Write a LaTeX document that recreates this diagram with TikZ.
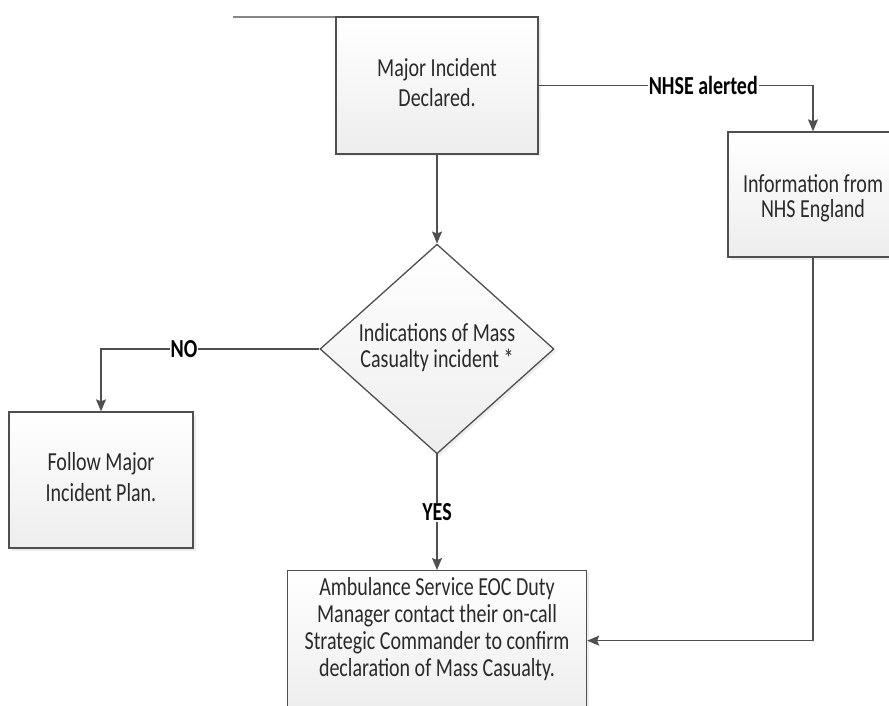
\documentclass[tikz,border=0pt]{standalone}
\usepackage{fontspec}
\usepackage{graphicx}
\setmainfont{Carlito}
\usetikzlibrary{arrows.meta,shapes.geometric,shadows}
\definecolor{edge}{HTML}{4F4F4F}
\definecolor{ink}{HTML}{2A2A2A}
\definecolor{rule}{HTML}{858585}
% centred lines of tall, narrow type; optional argument = line pitch before stretching
\newcommand\tallstack[2][20.5pt]{\scalebox{1}[1.3]{\fontsize{20pt}{#1}\selectfont
  \begin{tabular}{@{}c@{}}#2\end{tabular}}}
\newcommand\tallword[1]{\scalebox{1}[1.3]{\fontsize{20pt}{22pt}\selectfont\bfseries #1}}
% lower a block without changing the size the node sees
\newcommand\lowered[2]{\raisebox{-#1}[\height][\depth]{#2}}
\tikzset{
  boxfill/.style={top color=white, bottom color=black!7,
    drop shadow={opacity=0.14, shadow xshift=2.5pt, shadow yshift=-2.5pt}},
  proc/.style={rectangle, draw=edge, line width=1.3pt, inner sep=0pt,
    boxfill, text=ink},
  decision/.style={diamond, draw=edge, line width=1.3pt, inner sep=0pt,
    boxfill, text=ink},
  boxtext/.style={text=ink, inner sep=0pt},
  flow/.style={draw=edge, line width=1.3pt,
    -{Stealth[length=12pt,width=10pt,inset=2pt]}},
  lbl/.style={fill=white, inner sep=1pt, text=black},
}
\begin{document}
\begin{tikzpicture}[x=1pt,y=-1pt]
\useasboundingbox (0,0) rectangle (889,706);

% stray rule above the first box
\coordinate (ruleA) at (233,17);
\coordinate (ruleB) at (520,17);
\draw[rule, line width=1.4pt] (ruleA) -- (ruleB);

% process boxes
\node[proc, minimum width=202pt, minimum height=137pt] (declared) at (437,85.5)
  {\tallstack[23.5pt]{Major Incident\\Declared.}};
\node[proc, minimum width=170pt, minimum height=125pt] (nhs) at (813,194.5)
  {\lowered{5pt}{\tallstack[19pt]{Information from\\NHS England}}};
\node[proc, minimum width=184pt, minimum height=136pt] (follow) at (101,480)
  {\tallstack[23.5pt]{Follow Major\\Incident Plan.}};

% decision
\node[decision, minimum width=234pt, minimum height=192pt] (ask) at (437,349)
  {\tallstack[20.5pt]{Indications of Mass\\Casualty incident *}};

% final box, running off the lower edge
\node[proc, anchor=north, minimum width=299pt, minimum height=140pt] (confirm) at (437,570) {};
\node[boxtext] (confirmtext) at (437,631)
  {\tallstack[20.8pt]{Ambulance Service EOC Duty\\Manager contact their on-call\\Strategic Commander to confirm\\declaration of Mass Casualty.}};

% connectors
\draw[flow] (declared) -- (ask);
\draw[flow] (declared.east) -| node[lbl, pos=0.3] {\tallword{NHSE alerted}} (nhs.north);
\draw[flow] (ask.west) -| node[lbl, pos=0.31] {\tallword{NO}} (follow.north);
\draw[flow] (ask.south) -- node[lbl] {\tallword{YES}} (confirm.north);
\draw[flow] (nhs.south) |- (confirm.east);
\end{tikzpicture}
\end{document}
